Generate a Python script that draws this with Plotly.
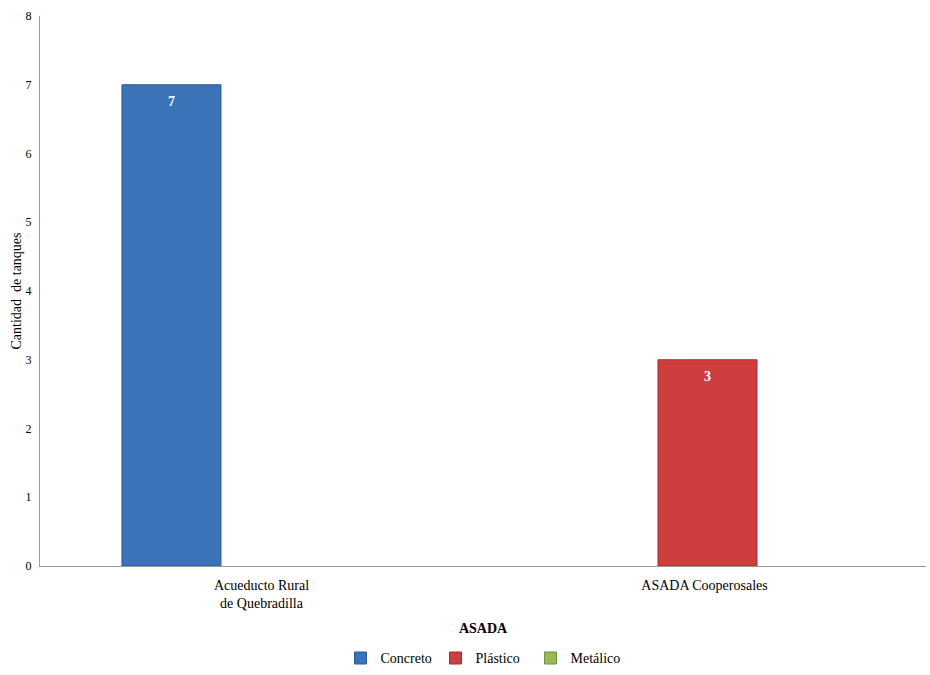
import plotly.graph_objects as go

categories = ["Acueducto Rural<br>de Quebradilla", "ASADA Cooperosales"]
series_names = ["Concreto", "Plástico", "Metálico"]
concreto = [7, None]
plastico = [None, 3]
metalico = [None, None]
y_ticks = [0, 1, 2, 3, 4, 5, 6, 7, 8]

colors = ["#3b73b9", "#cf3e3e", "#98b954"]
line_colors = ["#2c5a94", "#9e2f2f", "#71903c"]
offsets = [-0.315, -0.105, 0.105]
FONT = "Liberation Serif, Times New Roman, serif"

fig = go.Figure()
for name, vals, c, lc, off in zip(series_names, [concreto, plastico, metalico], colors, line_colors, offsets):
    fig.add_trace(go.Bar(
        x=categories, y=vals, name=name,
        width=0.2235, offset=off,
        marker=dict(color=c, line=dict(color=lc, width=1)),
    ))
    for cat, v in zip(categories, vals):
        if v is not None:
            fig.add_annotation(
                x=cat, y=v, xref="x", yref="y", text=f"<b>{v}</b>", showarrow=False,
                xshift=(off + 0.2235 / 2) * 443, yshift=-17, yanchor="middle",
                font=dict(family=FONT, size=14, color="white"),
            )

fig.update_layout(
    width=930, height=675,
    margin=dict(l=40, r=4, t=16, b=109, autoexpand=False),
    paper_bgcolor="white", plot_bgcolor="white",
    barmode="overlay",
    font=dict(family=FONT, size=12, color="black"),
    legend=dict(orientation="h", x=0.5, xanchor="center", y=-0.168, yanchor="middle",
                font=dict(family=FONT, size=14), itemwidth=30, entrywidth=50,
                traceorder="normal"),
    showlegend=True,
)
fig.update_xaxes(
    automargin=False,
    showline=True, linecolor="#999999", linewidth=1, showgrid=False,
    tickfont=dict(family=FONT, size=14), ticklabelstandoff=6,
    title=dict(text="<b>ASADA</b>", font=dict(family=FONT, size=14), standoff=13),
)
fig.update_yaxes(
    automargin=False,
    range=[0, 8], tickvals=y_ticks, showline=True, linecolor="#999999", linewidth=1,
    showgrid=False, zeroline=False, ticks="", ticklabelstandoff=5,
    tickfont=dict(family=FONT, size=12),
    title=dict(text="Cantidad  de tanques", font=dict(family=FONT, size=14), standoff=0),
)

fig.write_html("out.html")
